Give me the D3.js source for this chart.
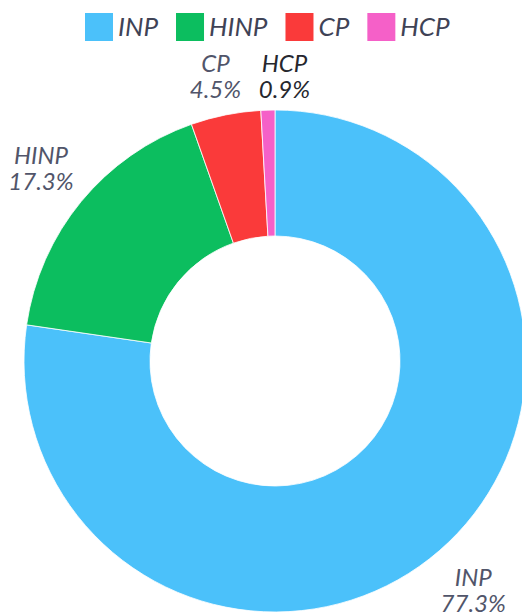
<!DOCTYPE html>
<html>
<head>
<meta charset="utf-8">
<script src="https://cdn.jsdelivr.net/npm/d3@7"></script>
<style>
  html, body { margin: 0; padding: 0; background: #fff; }
  svg { display: block; font-family: Lato, "Open Sans", sans-serif; font-style: italic; font-weight: 400; }
</style>
</head>
<body>
<div id="chart"></div>
<script>

// Chart data
const categories = ["INP", "HINP", "CP", "HCP"];
const shares = [77.3, 17.3, 4.5, 0.9];
const colors = ["#4bc1fa", "#0cbe5f", "#fa3a3a", "#f560c8"];

let width = 522,
    height = 615;

let cx = 275,
    cy = 361,
    outerR = 251,
    innerR = 125,
    labelR = 303;

let svg = d3.select("#chart")
    .append("svg")
    .attr("width", width)
    .attr("height", height);

let data = categories.map((c, i) => ({ name: c, value: shares[i], color: colors[i] }));

let pie = d3.pie()
    .sort(null)
    .value(d => d.value);

let arc = d3.arc()
    .innerRadius(innerR)
    .outerRadius(outerR);

let labelArc = d3.arc()
    .innerRadius(labelR)
    .outerRadius(labelR);

let arcs = pie(data);

let g = svg.append("g")
    .attr("transform", `translate(${cx},${cy})`);

g.selectAll("path")
    .data(arcs)
    .enter()
    .append("path")
    .attr("d", arc)
    .attr("fill", d => d.data.color)
    .attr("stroke", "#fff")
    .attr("stroke-width", 0.8);

// Label positions on the mid angle, kept below the legend and apart from each other
let fs = 24;
let positions = arcs.map(d => {
    let [x, y] = labelArc.centroid(d);
    return { x: x, y: Math.max(y, 76.5 - cy), d: d };
});
for (let i = 1; i < positions.length; i++) {
    let p = positions[i], q = positions[i - 1];
    if (Math.abs(p.y - q.y) < 40 && p.x - q.x < 69) p.x = q.x + 69;
}

let labels = g.selectAll("g.label")
    .data(positions)
    .enter()
    .append("g")
    .attr("class", "label")
    .attr("transform", p => `translate(${p.x},${p.y})`);

labels.append("text")
    .attr("text-anchor", "middle")
    .attr("y", -13 + fs * 0.36)
    .attr("font-size", fs)
    .attr("fill", p => p.d.index === 3 ? "#26272e" : "#51556a")
    .text(p => p.d.data.name);

labels.append("text")
    .attr("text-anchor", "middle")
    .attr("y", 13 + fs * 0.36)
    .attr("font-size", fs)
    .attr("fill", p => p.d.index === 3 ? "#26272e" : "#51556a")
    .text(p => p.d.data.value.toFixed(1) + "%");

// Legend
let legend = svg.append("g");
let lx = 85, ly = 27, box = 28, lfs = 26;

data.forEach(d => {
    legend.append("rect")
        .attr("x", lx)
        .attr("y", ly - box / 2)
        .attr("width", box)
        .attr("height", box)
        .attr("fill", d.color);

    let t = legend.append("text")
        .attr("x", lx + box + 5)
        .attr("y", ly + lfs * 0.36)
        .attr("font-size", lfs)
        .attr("fill", "#3f4356")
        .text(d.name);

    lx += box + 5 + t.node().getComputedTextLength() + 18;
});

</script>
</body>
</html>
